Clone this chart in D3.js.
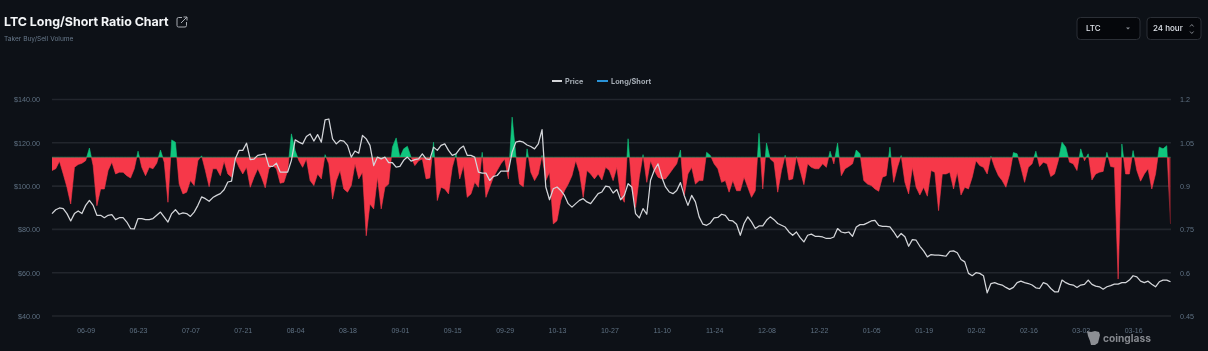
<!DOCTYPE html>
<html><head><meta charset="utf-8">
<script src="https://cdn.jsdelivr.net/npm/d3@7/dist/d3.min.js"></script>
<style>
html,body{margin:0;padding:0;background:#0d1117;width:1208px;height:351px;overflow:hidden}
svg{display:block;font-family:Inter,"Noto Sans",sans-serif;filter:blur(0.4px)}
</style></head><body><svg id="c" width="1208" height="351"></svg>
<script>
const title = "LTC Long/Short Ratio Chart";
const subtitle = "Taker Buy/Sell Volume";
const seriesNames = ["Price", "Long/Short"];
const priceTicks = [40, 60, 80, 100, 120, 140];
const ratioTicks = [0.45, 0.6, 0.75, 0.9, 1.05, 1.2];
const dateTickDays = [9,23,37,51,65,79,93,107,121,135,149,163,177,191,205,219,233,247,261,275,289];
const dateTickLabels = ["06-09","06-23","07-07","07-21","08-04","08-18","09-01","09-15","09-29","10-13","10-27","11-10","11-24","12-08","12-22","01-05","01-19","02-02","02-16","03-02","03-16"];
const ratio = [
.954,.96,.986,.942,.896,.838,.965,.975,.979,.988,
1.032,.971,.832,.89,.89,.954,.983,.942,.948,.948,
.936,.928,.96,1.021,.965,.936,.965,.96,.979,1.025,
.983,.844,1.06,1.052,.907,.873,.879,.919,.902,.988,
1.005,.954,.898,.96,.96,.936,.986,.942,.931,.994,
.965,.942,.965,.896,.931,.96,.931,.894,.96,.971,
.96,.91,.913,.954,1.081,1.023,.988,.965,.994,.919,
.902,.942,.925,1.009,.977,.855,.919,.954,.89,.879,
.902,.977,.925,.948,.728,.838,.821,.931,.821,.896,
.907,1.035,1.067,1.0,1.029,1.038,1.0,.971,.988,.994,
.925,.928,1.052,.85,.896,.89,.873,.965,1.012,.925,
.971,.861,.873,.913,.896,1.017,.861,.896,.931,.954,
.977,.994,.925,1.139,1.006,.907,.898,1.029,.948,.919,
.942,1.006,.919,.948,.769,.78,.85,.884,.907,.936,
.988,.948,.861,.954,.942,.925,.942,.921,.965,.954,
.919,.965,.867,.844,1.064,.896,.826,.931,1.009,.913,
.988,.954,.931,.925,.925,.942,.96,.977,1.025,.867,
.942,.965,.907,.919,.919,1.017,1.006,.977,.96,.913,
.919,.879,.919,.884,.884,.931,.896,.861,.884,1.083,
.89,1.049,.994,.983,.879,.954,1.007,.921,.925,1.002,
.954,.905,.977,.965,.96,.96,.977,.965,1.021,.977,
1.049,.936,.96,.968,.977,1.025,1.012,.919,.907,.902,
.89,.882,.931,.936,1.035,.913,.965,1.006,.913,.873,
.965,.896,.869,.896,.865,.954,.948,.815,.942,.942,
.948,.89,.948,.869,.896,.89,.931,.988,.971,.965,
.942,1.003,.965,.936,.919,.896,.942,1.016,1.012,.965,
.913,.965,.977,1.021,.968,.983,.977,.933,.942,.988,
1.052,1.035,.983,.977,.954,1.029,.988,1.012,.921,.942,
.948,.951,1.017,.968,.965,.578,1.046,.942,.942,1.023,
.954,.917,.942,.96,.89,.942,1.035,1.029,1.04,.769];
const price = [
87.3,89.1,89.9,89.6,87.3,83.9,87.3,88.5,87.3,91.1,
93.4,91.1,86.5,86.5,85.4,86.5,86.8,84.5,85.4,85.4,
83.4,80.4,80.2,85,85,84.5,84.5,85,86.5,88,
85.7,83.4,87.3,89.1,87,87.6,87.3,86,88,91.1,
95,94.2,93,94.7,95.7,96.5,98.3,101.9,102.3,112.6,
116.5,116.5,119.8,112.2,112.5,114.2,114.5,114.9,109.1,109.1,
110.6,106.5,106.5,106.5,111.9,121.4,120.3,119.5,122.9,124.1,
120.8,123.8,120.3,130.6,131,121.8,119.5,121.1,120.8,118.8,
113.4,116.2,115.2,123.4,121.8,118.8,109.5,113.4,112.6,113.4,
110.8,110.8,108.8,109.1,111.9,113.4,111.5,112.2,112.6,114.9,
112.6,112.2,118,116.5,118.8,119.5,116.5,114.2,114.9,117.2,
118.5,114.2,114.2,113.4,106.5,106,106,102.6,104.5,104.9,
106.9,106.9,106.9,115.7,120.3,120.8,120.3,119,118.3,117.2,
119.5,126.1,99.6,93.7,98.8,99.6,98,95.7,91.9,90.3,
91.9,93.4,94.2,92.7,91.9,94.2,96.5,97.3,100,99.6,
96.8,98.4,93.7,95.7,101.1,99.6,87.3,85.3,89.6,87,
102.7,107.3,110.3,104.2,99.6,97.3,96.5,98,101.6,95.7,
91.1,95.7,92.7,85.8,82.4,81.9,83,85.3,85.5,87,
86.5,84.2,83.9,82.4,77.3,82.7,85.8,83.5,80.4,81.6,
81.6,84.2,85.8,84.5,82.7,81.9,81.1,78.8,77.3,78.8,
76.2,74.2,77.3,77.8,76.8,76.8,76.5,75.8,75.8,76.5,
80.4,78.8,78.4,78.8,76.8,81.1,82.2,82.2,83,83.9,
84.2,81.9,81.4,81.4,81.2,78.9,76.2,78.1,76.6,72.2,
75.3,75,72.2,70.1,67.3,68.4,68.1,68.1,67.9,67.6,
69.9,70.1,69.2,66.1,65,59.7,58.6,60,59.7,58.6,
50.7,55,55.4,54.7,54.3,53.2,52.3,53.2,55.4,56.1,
55.4,55,54.3,53,52.7,55.4,54.7,52.7,51.2,51.2,
56.6,55.4,54.6,54.3,53.2,54.3,54.6,56.6,54.6,53.8,
53.5,52.4,53.5,54,54.7,54.7,55.4,55.4,56.6,58.6,
58.1,56.1,55.4,56.1,54.7,53.5,55.8,56.6,56.6,55.8];

const RED="#f63849", GREEN="#10c67e", GRID="#22262d", TICK="#5f7183", BG="#0d1117";
const svg=d3.select("#c");
const L=52,R=1171,T=99.5,B=316;
const x=d3.scaleLinear().domain([0,299]).range([L,1170.5]);
const yP=d3.scaleLinear().domain([40,140]).range([B,T]);
const yR=d3.scaleLinear().domain([0.45,1.2]).range([B,T]);

const defs=svg.append("defs");
defs.append("clipPath").attr("id","up").append("rect").attr("x",L).attr("y",T-20).attr("width",R-L).attr("height",yR(1)-T+20);
defs.append("clipPath").attr("id","dn").append("rect").attr("x",L).attr("y",yR(1)).attr("width",R-L).attr("height",B-yR(1));
const g=defs.append("linearGradient").attr("id","redFade").attr("gradientUnits","userSpaceOnUse")
 .attr("x1",x(298.4)).attr("x2",x(299)).attr("y1",0).attr("y2",0);
g.append("stop").attr("offset",0).attr("stop-color",RED);
g.append("stop").attr("offset",1).attr("stop-color","#6d1c26");

// grid + axes
const left=d3.axisLeft(yP).tickValues(priceTicks).tickSize(0).tickFormat(d=>"$"+d.toFixed(2)).tickPadding(12);
const gl=svg.append("g").attr("transform",`translate(${L},0)`).call(left);
gl.select(".domain").remove();
gl.selectAll("line").remove();
gl.selectAll("text").attr("fill",TICK).attr("font-size",7.2).attr("font-weight",500);

svg.append("g").selectAll("line").data(priceTicks).join("line")
 .attr("x1",L).attr("x2",R).attr("y1",d=>yP(d)).attr("y2",d=>yP(d))
 .attr("stroke",GRID).attr("stroke-width",1.6);

const right=d3.axisRight(yR).tickValues(ratioTicks).tickSize(0).tickFormat(d=>String(d)).tickPadding(9);
const gr=svg.append("g").attr("transform",`translate(${R},0)`).call(right);
gr.select(".domain").remove();
gr.selectAll("text").attr("fill",TICK).attr("font-size",7.2).attr("font-weight",500);

const bottom=d3.axisBottom(x).tickValues(dateTickDays).tickSize(0).tickFormat((d,i)=>dateTickLabels[i]).tickPadding(0);
const gb=svg.append("g").attr("transform",`translate(0,328)`).call(bottom);
gb.select(".domain").remove();
gb.selectAll("text").attr("fill",TICK).attr("font-size",7).attr("font-weight",500);

// areas
const area=d3.area().x((d,i)=>x(i)).y0(yR(1)).y1(d=>yR(d));
svg.append("path").datum(ratio).attr("d",area).attr("fill","url(#redFade)").attr("stroke","url(#redFade)").attr("stroke-width",.6).attr("clip-path","url(#dn)");
svg.append("path").datum(ratio).attr("d",area).attr("fill",GREEN).attr("stroke",GREEN).attr("stroke-width",.6).attr("clip-path","url(#up)");

// price
const line=d3.line().x((d,i)=>x(i)).y(d=>yP(d));
svg.append("path").datum(price).attr("d",line).attr("fill","none").attr("stroke","#d4d6da").attr("stroke-width",1.25).attr("stroke-linejoin","round");

// title
svg.append("text").attr("x",4).attr("y",25.5).attr("fill","#f4f6f8").attr("font-size",12.4).attr("font-weight",700).text(title);
svg.append("text").attr("x",4).attr("y",41).attr("fill","#67788a").attr("font-size",6.6).text(subtitle);
const ic=svg.append("g").attr("fill","none").attr("stroke","#a9adb3").attr("stroke-width",1);
ic.append("path").attr("d","M182 17.5h-3.5a1.5 1.5 0 0 0-1.5 1.5v6.5a1.5 1.5 0 0 0 1.5 1.5h6.5a1.5 1.5 0 0 0 1.5-1.5V22");
ic.append("path").attr("d","M181 23l6-6M183.5 17H187v3.5");

// legend
const lg=svg.append("g").attr("font-size",7.3).attr("font-weight",700);
lg.append("line").attr("x1",552).attr("x2",562).attr("y1",81).attr("y2",81).attr("stroke","#d4d6d9").attr("stroke-width",2);
lg.append("text").attr("x",565).attr("y",84).attr("fill","#a5acb4").text(seriesNames[0]);
lg.append("line").attr("x1",597).attr("x2",608).attr("y1",81).attr("y2",81).attr("stroke","#2a93d8").attr("stroke-width",2);
lg.append("text").attr("x",611).attr("y",84).attr("fill","#a5acb4").text(seriesNames[1]);

// controls
function box(x0,w){svg.append("rect").attr("x",x0).attr("y",17.5).attr("width",w).attr("height",22).attr("rx",3.5).attr("fill","#05070b").attr("stroke","#2b2f36");}
box(1077,63);box(1147,54);
svg.append("text").attr("x",1086).attr("y",31).attr("fill","#dfe3ea").attr("font-size",8).attr("font-weight",500).text("LTC");
svg.append("path").attr("d","M1126 27.5h4l-2 2z").attr("fill","#8a8e95");
svg.append("text").attr("x",1153).attr("y",31).attr("fill","#dfe3ea").attr("font-size",8).attr("font-weight",500).text("24 hour");
svg.append("path").attr("d","M1190 26.5l1.8-2 1.8 2M1190 31.5l1.8 2 1.8-2").attr("fill","none").attr("stroke","#8a8e95").attr("stroke-width",.9);

// watermark
svg.append("path").attr("d","M1087 331l4 1 4-1 4 1 1 3-1 4-1 4-3 2-4 0-1-4-2-5z").attr("fill","#8c8f94");
svg.append("text").attr("x",1103).attr("y",342).attr("fill","#85888e").attr("font-size",10.2).attr("font-weight",700).text("coinglass");
</script></body></html>
